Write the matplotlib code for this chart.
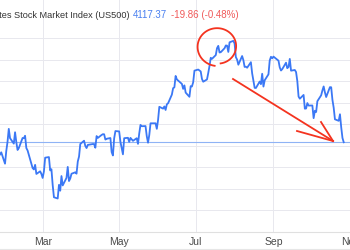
import numpy as np
import pandas as pd
import matplotlib.pyplot as plt

plt.rcParams['font.family'] = ['Liberation Sans', 'DejaVu Sans']

# ==========================================
# Daily closes (US500), late Jan - Oct 27
# ==========================================

jan = [4060.43, 4070.56, 4017.77, 4076.60]
feb = [4119.21, 4179.76, 4136.48, 4111.08, 4164.00, 4117.86, 4081.50, 4090.46,
       4137.29, 4136.13, 4147.60, 4090.41, 4079.09, 3997.34, 3991.05, 4012.32,
       3970.04, 3982.24, 3970.15]
mar = [3951.39, 3981.35, 4045.64, 4048.42, 3986.37, 3992.01, 3918.32, 3861.59,
       3855.76, 3919.29, 3891.93, 3960.28, 3916.64, 3951.57, 4002.87, 3936.97,
       3948.72, 3970.99, 3977.53, 3971.27, 4027.81, 4050.83, 4109.31]
apr = [4124.51, 4100.60, 4090.38, 4105.02, 4109.11, 4108.94, 4091.95, 4146.22,
       4137.64, 4151.32, 4154.87, 4154.52, 4129.79, 4133.52, 4137.04, 4071.63,
       4055.99, 4135.35, 4169.48]
may = [4167.87, 4119.58, 4090.75, 4061.22, 4136.25, 4138.12, 4119.17, 4137.64,
       4130.62, 4124.08, 4136.28, 4109.90, 4158.77, 4198.05, 4191.98, 4192.63,
       4145.58, 4115.24, 4151.28, 4205.45, 4205.52, 4179.83]
jun = [4221.02, 4282.37, 4273.79, 4283.85, 4267.52, 4293.93, 4298.86, 4338.93,
       4369.01, 4372.59, 4425.84, 4409.59, 4388.71, 4365.69, 4381.89, 4348.33,
       4328.82, 4378.41, 4376.86, 4396.44, 4450.38]
jul = [4455.59, 4446.82, 4411.59, 4398.95, 4409.53, 4439.26, 4472.16, 4510.04,
       4505.42, 4522.79, 4554.98, 4565.72, 4534.87, 4536.34, 4554.64, 4567.46,
       4566.75, 4537.41, 4582.23, 4588.96]
aug = [4576.73, 4513.39, 4501.89, 4478.03, 4518.44, 4499.38, 4467.71, 4468.83,
       4464.05, 4489.72, 4437.86, 4404.33, 4370.36, 4369.71, 4399.77, 4387.55,
       4436.01, 4376.31, 4405.71, 4433.31, 4497.63, 4514.87, 4507.66]
sep = [4515.77, 4496.83, 4465.48, 4451.14, 4457.49, 4487.46, 4461.90, 4467.44,
       4505.10, 4450.32, 4453.53, 4443.95, 4402.20, 4330.00, 4320.06, 4337.44,
       4273.53, 4274.51, 4299.70, 4288.05]
oct_ = [4288.39, 4229.45, 4263.75, 4258.19, 4308.50, 4335.66, 4358.24, 4376.95,
        4349.61, 4327.78, 4373.63, 4373.20, 4314.60, 4278.00, 4224.16, 4217.04,
        4247.68, 4186.77, 4137.23, 4117.37]

holidays = ["2023-02-20", "2023-04-07", "2023-05-29", "2023-06-19",
            "2023-07-04", "2023-09-04"]

closes = jan + feb + mar + apr + may + jun + jul + aug + sep + oct_
dates = pd.bdate_range("2023-01-26", "2023-10-27", freq="C", holidays=holidays)

last_price = 4117.37
change = -19.86
change_pct = -0.48

month_ticks = ["2023-03-01", "2023-05-01", "2023-07-01", "2023-09-01", "2023-11-01"]
month_labels = ["Mar", "May", "Jul", "Sep", "Nov"]
y_grid = [3700, 3800, 3900, 4000, 4100, 4200, 4300, 4400, 4500, 4600]

# ==========================================
# Plot
# ==========================================

fig = plt.figure(figsize=(3.5, 2.5), dpi=100)
ax = fig.add_axes([0, 0.072, 1, 0.928])

ax.axhline(last_price, color="#8fb3f5", lw=0.8, zorder=1)
ax.plot(dates, closes, color="#3b78f5", lw=1.3, zorder=3)

ax.set_xlim(pd.Timestamp("2023-01-26"), pd.Timestamp("2023-10-29 12:00"))
ax.set_ylim(3700, 4779)

ax.set_xticks(pd.to_datetime(month_ticks))
ax.set_xticklabels(month_labels)
ax.set_yticks(y_grid)
ax.tick_params(axis="x", length=0, pad=3.5, labelsize=7.5, labelcolor="#4a4a4a")
ax.tick_params(axis="y", length=0, labelleft=False)
ax.grid(True, color="#e8e8ee", lw=0.7)
ax.set_axisbelow(True)

for s in ["top", "right", "left"]:
    ax.spines[s].set_visible(False)
ax.spines["bottom"].set_color("#e0e0e0")
ax.spines["bottom"].set_linewidth(0.8)

# bottom border of the screenshot
fig.add_artist(plt.Line2D([0, 1], [1 - 249 / 250] * 2, color="#e6e6e6", lw=0.8,
                          transform=fig.transFigure))

# header
fig.text(130 / 350, 1 - 15 / 250, "United States Stock Market Index (US500)",
         ha="right", va="center", fontsize=6.6, color="#333333")
fig.text(133 / 350, 1 - 15 / 250, f"{last_price:.2f}",
         ha="left", va="center", fontsize=7, color="#4a80f0")
fig.text(171 / 350, 1 - 15 / 250, f"{change:.2f} ({change_pct:.2f}%)",
         ha="left", va="center", fontsize=7, color="#f05a5a")

# hand-drawn red annotations (pixel positions)
def px(x, y):
    return np.asarray(x) / 350, 1 - np.asarray(y) / 250

red = "#f4331f"
t = np.radians(np.linspace(262, -80, 120))
r = np.linspace(1.0, 0.88, 120)
cx, cy, rx, ry = 217.5, 46.5, 20.5, 19.5
loop_x = cx + rx * r * np.cos(t)
loop_y = cy - ry * r * np.sin(t)
fx, fy = px(loop_x, loop_y)
fig.add_artist(plt.Line2D(fx, fy, color=red, lw=1.3, transform=fig.transFigure))

for (x0, y0), (x1, y1) in [((233, 79), (333, 141)),
                           ((321, 122), (333, 141)),
                           ((297, 131), (333, 141))]:
    fx, fy = px([x0, x1], [y0, y1])
    fig.add_artist(plt.Line2D(fx, fy, color=red, lw=1.3,
                              transform=fig.transFigure))

fig.savefig("out.png", dpi=100)
